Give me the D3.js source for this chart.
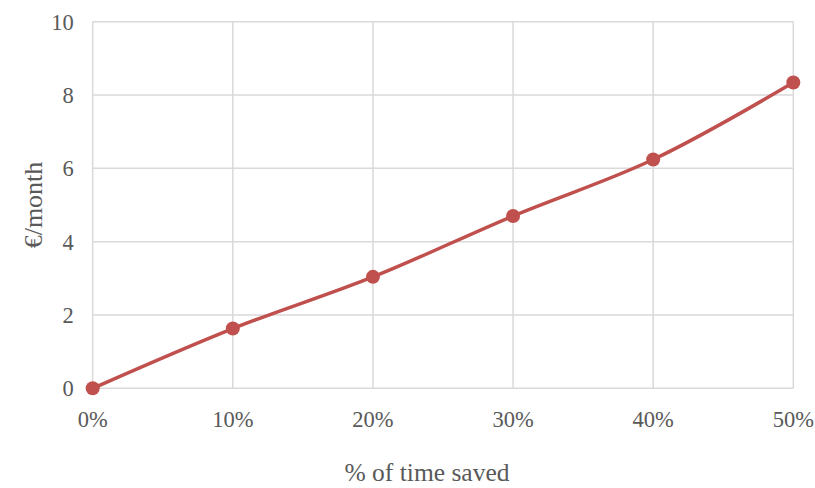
<!DOCTYPE html>
<html><head><meta charset="utf-8">
<script src="https://cdn.jsdelivr.net/npm/d3@7"></script>
<style>body{margin:0;background:#fff}svg{display:block}
text{font-family:"Liberation Serif","Times New Roman",Tinos,"DejaVu Serif",serif}</style>
</head><body>
<svg id="c" width="815" height="488"></svg>
<script>
const categories = ["0%","10%","20%","30%","40%","50%"];
const values = [0, 1.63, 3.04, 4.70, 6.24, 8.34];
const yTicks = [0, 2, 4, 6, 8, 10];
const xTitle = "% of time saved";
const yTitle = "€/month";

const svg = d3.select("#c");
const m = {l: 92.7, r: 815-793.3, t: 21.7, b: 488-388.3};
const W = 815, H = 488;
const x = d3.scalePoint().domain(categories).range([m.l, W - m.r]);
const y = d3.scaleLinear().domain([0, 10]).range([H - m.b, m.t]);
const grid = "#d9d9d9";

svg.append("g").selectAll("line").data(yTicks).join("line")
  .attr("x1", m.l).attr("x2", W - m.r)
  .attr("y1", d => y(d)).attr("y2", d => y(d))
  .attr("stroke", grid).attr("stroke-width", 1.5);
svg.append("g").selectAll("line").data(categories).join("line")
  .attr("x1", d => x(d)).attr("x2", d => x(d))
  .attr("y1", y(0)).attr("y2", y(10))
  .attr("stroke", grid).attr("stroke-width", 1.5);

svg.append("g").selectAll("text").data(yTicks).join("text")
  .attr("x", m.l - 19).attr("y", d => y(d)).attr("dy", "0.35em")
  .attr("text-anchor", "end").attr("font-size", 22.5)
  .attr("fill", "#595959").text(d => d);
svg.append("g").selectAll("text").data(categories).join("text")
  .attr("x", d => x(d)).attr("y", y(0) + 38.5)
  .attr("text-anchor", "middle").attr("font-size", 22.5)
  .attr("fill", "#595959").text(d => d);

svg.append("text").attr("x", 427).attr("y", 481)
  .attr("text-anchor", "middle").attr("font-size", 25.5)
  .attr("fill", "#595959").text(xTitle);
svg.append("text").attr("transform", `translate(42,${(y(0)+y(10))/2}) rotate(-90)`)
  .attr("text-anchor", "middle").attr("font-size", 26)
  .attr("fill", "#595959").text(yTitle);

const pts = categories.map((c, i) => [x(c), y(values[i])]);
svg.append("path").attr("d", d3.line().curve(d3.curveCatmullRom.alpha(0.5))(pts))
  .attr("fill", "none").attr("stroke", "#c0504d").attr("stroke-width", 3.5);
svg.append("g").selectAll("circle").data(pts).join("circle")
  .attr("cx", d => d[0]).attr("cy", d => d[1]).attr("r", 7)
  .attr("fill", "#c0504d");
</script>
</body></html>
